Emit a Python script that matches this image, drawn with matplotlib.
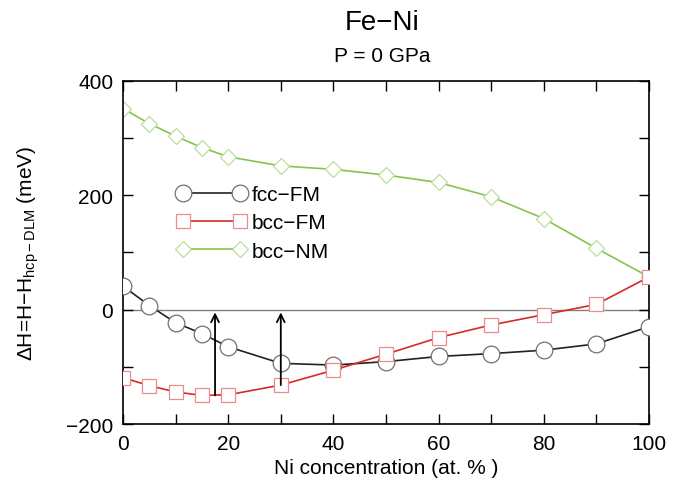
import matplotlib
matplotlib.use("Agg")
import matplotlib.pyplot as plt
from matplotlib.ticker import MultipleLocator

plt.rcParams['font.family'] = ['Liberation Sans', 'DejaVu Sans']
plt.rcParams['mathtext.fontset'] = 'custom'
plt.rcParams['mathtext.rm'] = 'Liberation Sans'
plt.rcParams['mathtext.it'] = 'Liberation Sans:italic'

x = [0, 5, 10, 15, 20, 30, 40, 50, 60, 70, 80, 90, 100]
fcc_fm = [41, 7, -23, -42, -65, -94, -97, -91, -82, -77, -71, -60, -30]
bcc_fm = [-119, -133, -144, -150, -149, -132, -106, -78, -49, -27, -9, 9, 57]
bcc_nm = [351, 325, 303, 283, 267, 251, 245, 235, 222, 197, 159, 107, 57]

arrow_x = [17.5, 30]
arrow_from = [-150, -132]
arrow_to = [-5, -5]

fig = plt.figure(figsize=(6.81, 4.85), dpi=100)
ax = fig.add_axes([0.1806, 0.1237, 0.7724, 0.708])

ax.axhline(0, color='#808080', lw=1.0, zorder=1)

ax.plot(x, fcc_fm, '-', color='#222222', lw=1.2, marker='o', ms=12,
        mfc='white', mec='#707070', mew=0.9, label='fcc\u2212FM', zorder=3)
ax.plot(x, bcc_fm, '-', color='#d42a2a', lw=1.2, marker='s', ms=10,
        mfc='white', mec='#e88c8c', mew=0.9, label='bcc\u2212FM', zorder=4)
ax.plot(x, bcc_nm, '-', color='#86c44e', lw=1.2, marker='D', ms=8.5,
        mfc='white', mec='#b8e09a', mew=0.9, label='bcc\u2212NM', zorder=2)

for xa, y0, y1 in zip(arrow_x, arrow_from, arrow_to):
    ax.annotate('', xy=(xa, y1), xytext=(xa, y0),
                arrowprops=dict(arrowstyle='->', color='black', lw=1.3,
                                mutation_scale=14, shrinkA=0, shrinkB=0),
                zorder=5)

ax.set_xlim(0, 100)
ax.set_ylim(-200, 400)
ax.xaxis.set_major_locator(MultipleLocator(20))
ax.xaxis.set_minor_locator(MultipleLocator(10))
ax.yaxis.set_major_locator(MultipleLocator(200))
ax.yaxis.set_minor_locator(MultipleLocator(100))
ax.tick_params(which='both', direction='in', top=True, right=True, labelsize=15, pad=7)
ax.tick_params(which='major', length=7, width=1)
ax.tick_params(which='minor', length=7, width=1)
for s in ax.spines.values():
    s.set_linewidth(1.2)

ax.set_xlabel('Ni concentration (at. % )', fontsize=15, labelpad=4)
ax.set_ylabel('$\\Delta$H=H\u2212H$_{\\mathrm{hcp\u2212DLM}}$ (meV)', fontsize=15, labelpad=18)

fig.text(0.561, 1 - 23 / 485, 'Fe\u2212Ni', ha='center', va='center', fontsize=20)
fig.text(0.561, 1 - 57 / 485, 'P = 0 GPa', ha='center', va='center', fontsize=15)

leg = ax.legend(loc='upper left', bbox_to_anchor=(177 / 681, 1 - 186 / 485),
                bbox_transform=fig.transFigure, frameon=False, numpoints=2,
                fontsize=15, handlelength=3.3, handletextpad=0.3, labelspacing=0.45,
                borderaxespad=0, borderpad=0)

fig.savefig('out.png', dpi=100)
